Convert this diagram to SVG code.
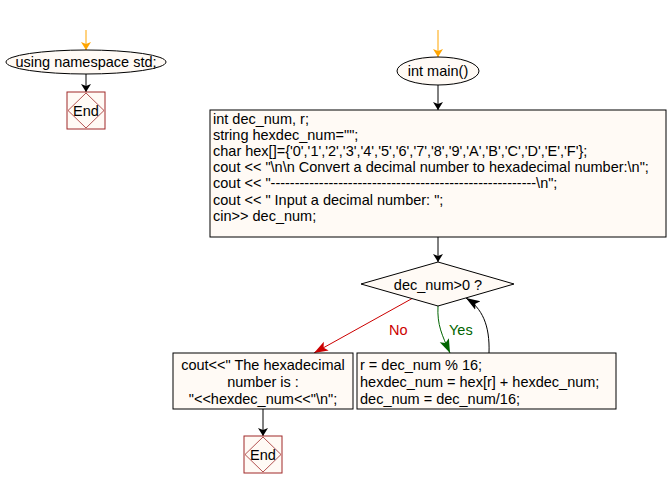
<svg xmlns="http://www.w3.org/2000/svg" width="669" height="489" viewBox="0 0 669 489">
<style>
text{font-family:"Liberation Sans",Arial,sans-serif;font-size:14.5px;fill:#000}
.shape{fill:#fffaf5;stroke:#000;stroke-width:1}
.endbox{fill:#fffaf5;stroke:#a02828;stroke-width:1}
.endd{fill:none;stroke:#a02828;stroke-width:0.8}
.ln{fill:none;stroke:#000;stroke-width:1}
</style>
<defs>
<marker id="ab" markerWidth="8" markerHeight="12" refX="8" refY="6" orient="auto" markerUnits="userSpaceOnUse"><path d="M0,1 L8,6 L0,11 L2,6 Z" fill="#000"/></marker>
<marker id="ao" markerWidth="8" markerHeight="12" refX="8" refY="6" orient="auto" markerUnits="userSpaceOnUse"><path d="M0,1 L8,6 L0,11 L2,6 Z" fill="#ffa500"/></marker>
<marker id="ar" markerWidth="14" markerHeight="12" refX="14" refY="6" orient="auto" markerUnits="userSpaceOnUse"><path d="M0,1 L14,6 L0,11 L3,6 Z" fill="#cc0000"/></marker>
<marker id="ag" markerWidth="14" markerHeight="12" refX="14" refY="6" orient="auto" markerUnits="userSpaceOnUse"><path d="M0,1 L14,6 L0,11 L3,6 Z" fill="#006400"/></marker>
<marker id="ak" markerWidth="14" markerHeight="12" refX="14" refY="6" orient="auto" markerUnits="userSpaceOnUse"><path d="M0,1 L14,6 L0,11 L3,6 Z" fill="#000"/></marker>
</defs>
<g id="connectors">
<line x1="86" y1="30" x2="86" y2="50" stroke="#ffa500" stroke-width="1" marker-end="url(#ao)"/>
<line x1="86" y1="74" x2="86" y2="92" class="ln" marker-end="url(#ab)"/>
<line x1="438" y1="30" x2="438" y2="57" stroke="#ffa500" stroke-width="1" marker-end="url(#ao)"/>
<line x1="438" y1="85" x2="438" y2="110" class="ln" marker-end="url(#ab)"/>
<line x1="438" y1="237" x2="438" y2="262" class="ln" marker-end="url(#ab)"/>
<line x1="413" y1="298" x2="314" y2="353" stroke="#cc0000" stroke-width="1" marker-end="url(#ar)"/>
<path d="M438,306 C437,325 442,335 450,353" fill="none" stroke="#006400" stroke-width="1" marker-end="url(#ag)"/>
<path d="M489,353 C490,325 482,308 466,298" class="ln" marker-end="url(#ak)"/>
<line x1="263" y1="409" x2="263" y2="436" class="ln" marker-end="url(#ab)"/>
<text x="389" y="335" style="fill:#cc0000">No</text>
<text x="449" y="335" style="fill:#006400">Yes</text>
</g>
<g id="start1">
<ellipse cx="86" cy="62" rx="80" ry="12" class="shape"/>
<text x="86" y="67" text-anchor="middle">using namespace std;</text>
</g>
<g id="end1">
<rect x="67" y="92" width="38" height="37" class="endbox"/>
<path d="M86,93 L104,110.5 L86,128 L68,110.5 Z" class="endd"/>
<text x="86" y="116" text-anchor="middle">End</text>
</g>
<g id="start2">
<ellipse cx="438" cy="71" rx="41" ry="14" class="shape"/>
<text x="438" y="76" text-anchor="middle">int main()</text>
</g>
<g id="decl">
<rect x="210" y="110" width="456" height="127" class="shape"/>
<text x="213" y="124">int dec_num, r;</text>
<text x="213" y="140">string hexdec_num="";</text>
<text x="213" y="156">char hex[]={'0','1','2','3','4','5','6','7','8','9','A','B','C','D','E','F'};</text>
<text x="213" y="172">cout &lt;&lt; "\n\n Convert a decimal number to hexadecimal number:\n";</text>
<text x="213" y="188">cout &lt;&lt; "-------------------------------------------------------\n";</text>
<text x="213" y="205">cout &lt;&lt; " Input a decimal number: ";</text>
<text x="213" y="221">cin&gt;&gt; dec_num;</text>
</g>
<g id="cond">
<path d="M438,262 L514,284 L438,306 L361,284 Z" class="shape"/>
<text x="438" y="290" text-anchor="middle">dec_num&gt;0 ?</text>
</g>
<g id="output">
<rect x="173" y="353" width="180" height="56" class="shape"/>
<text x="263" y="370" text-anchor="middle">cout&lt;&lt;" The hexadecimal</text>
<text x="263" y="387" text-anchor="middle">number is :</text>
<text x="263" y="404" text-anchor="middle">"&lt;&lt;hexdec_num&lt;&lt;"\n";</text>
</g>
<g id="body">
<rect x="357" y="353" width="259" height="56" class="shape"/>
<text x="360" y="370">r = dec_num % 16;</text>
<text x="360" y="387">hexdec_num = hex[r] + hexdec_num;</text>
<text x="360" y="404">dec_num = dec_num/16;</text>
</g>
<g id="end2">
<rect x="244" y="436" width="38" height="37" class="endbox"/>
<path d="M263,437 L281,454.5 L263,472 L245,454.5 Z" class="endd"/>
<text x="263" y="460" text-anchor="middle">End</text>
</g>
</svg>
